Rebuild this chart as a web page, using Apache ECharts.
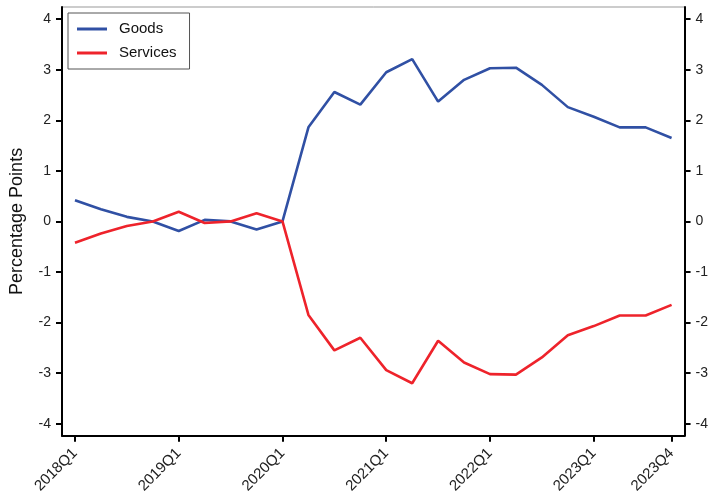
<!DOCTYPE html>
<html>
<head>
<meta charset="utf-8">
<script src="https://cdn.jsdelivr.net/npm/echarts@6/dist/echarts.min.js"></script>
<style>html,body{margin:0;padding:0;background:#fff}#c{width:711px;height:496px}</style>
</head>
<body>
<div id="c"></div>
<script>
const quarters = [
  '2018Q1','2018Q2','2018Q3','2018Q4',
  '2019Q1','2019Q2','2019Q3','2019Q4',
  '2020Q1','2020Q2','2020Q3','2020Q4',
  '2021Q1','2021Q2','2021Q3','2021Q4',
  '2022Q1','2022Q2','2022Q3','2022Q4',
  '2023Q1','2023Q2','2023Q3','2023Q4'
];
const goods = [0.42, 0.24, 0.09, 0.0, -0.19, 0.03, 0.0, -0.16, 0.0,
  1.86, 2.56, 2.31, 2.95, 3.21, 2.37, 2.80, 3.03, 3.04, 2.70, 2.26, 2.07, 1.86, 1.86, 1.65];
const services = [-0.42, -0.24, -0.09, 0.0, 0.19, -0.03, 0.0, 0.16, 0.0,
  -1.85, -2.55, -2.30, -2.94, -3.20, -2.36, -2.79, -3.02, -3.03, -2.69, -2.25, -2.07, -1.86, -1.86, -1.65];
const yTicks = [-4, -3, -2, -1, 0, 1, 2, 3, 4];
const shownQuarters = ['2018Q1','2019Q1','2020Q1','2021Q1','2022Q1','2023Q1','2023Q4'];

const FONT = 'Liberation Sans, Arial, sans-serif';
const showQ = (i, v) => shownQuarters.indexOf(quarters[i]) >= 0;

const yAxisBase = {
  type: 'value', min: -4.24, max: 4.24,
  splitLine: { show: false },
  axisLine: { show: true, onZero: false, lineStyle: { color: '#000', width: 2 } },
  axisTick: { show: true, length: 6, lineStyle: { color: '#000', width: 2 }, customValues: yTicks },
  axisLabel: { color: '#222', fontSize: 14, fontFamily: FONT, margin: 11, customValues: yTicks }
};

const chart = echarts.init(document.getElementById('c'), null, { renderer: 'canvas' });
chart.setOption({
  animation: false,
  backgroundColor: '#fff',
  grid: { left: 61, right: 24, top: 7, bottom: 58, show: true, borderColor: '#999', borderWidth: 1 },
  legend: {
    orient: 'vertical', left: 68, top: 13,
    padding: [8, 13, 8, 9],
    borderColor: '#555', borderWidth: 1,
    itemWidth: 30, itemHeight: 3, itemGap: 8,
    icon: 'rect',
    textStyle: { color: '#111', fontSize: 15, fontFamily: FONT, lineHeight: 16, padding: [0, 0, 0, 7] },
    data: ['Goods', 'Services']
  },
  xAxis: {
    type: 'category', data: quarters, boundaryGap: true,
    axisLine: { show: true, onZero: false, lineStyle: { color: '#000', width: 2 } },
    axisTick: { show: true, alignWithLabel: true, length: 6, interval: showQ, lineStyle: { color: '#000', width: 2 } },
    axisLabel: { interval: showQ, rotate: 45, color: '#222', fontSize: 15, fontFamily: FONT, margin: 15 },
    splitLine: { show: false }
  },
  yAxis: [
    Object.assign({}, yAxisBase, {
      position: 'left',
      name: 'Percentage Points', nameLocation: 'middle', nameGap: 36,
      nameTextStyle: { color: '#111', fontSize: 18, fontFamily: FONT }
    }),
    Object.assign({}, yAxisBase, { position: 'right' })
  ],
  series: [
    { name: 'Goods', type: 'line', data: goods, yAxisIndex: 0, showSymbol: false, symbol: 'none',
      lineStyle: { color: '#3050A4', width: 2.6 }, itemStyle: { color: '#3050A4' } },
    { name: 'Services', type: 'line', data: services, yAxisIndex: 0, showSymbol: false, symbol: 'none',
      lineStyle: { color: '#EE232B', width: 2.6 }, itemStyle: { color: '#EE232B' } }
  ]
});
</script>
</body>
</html>
